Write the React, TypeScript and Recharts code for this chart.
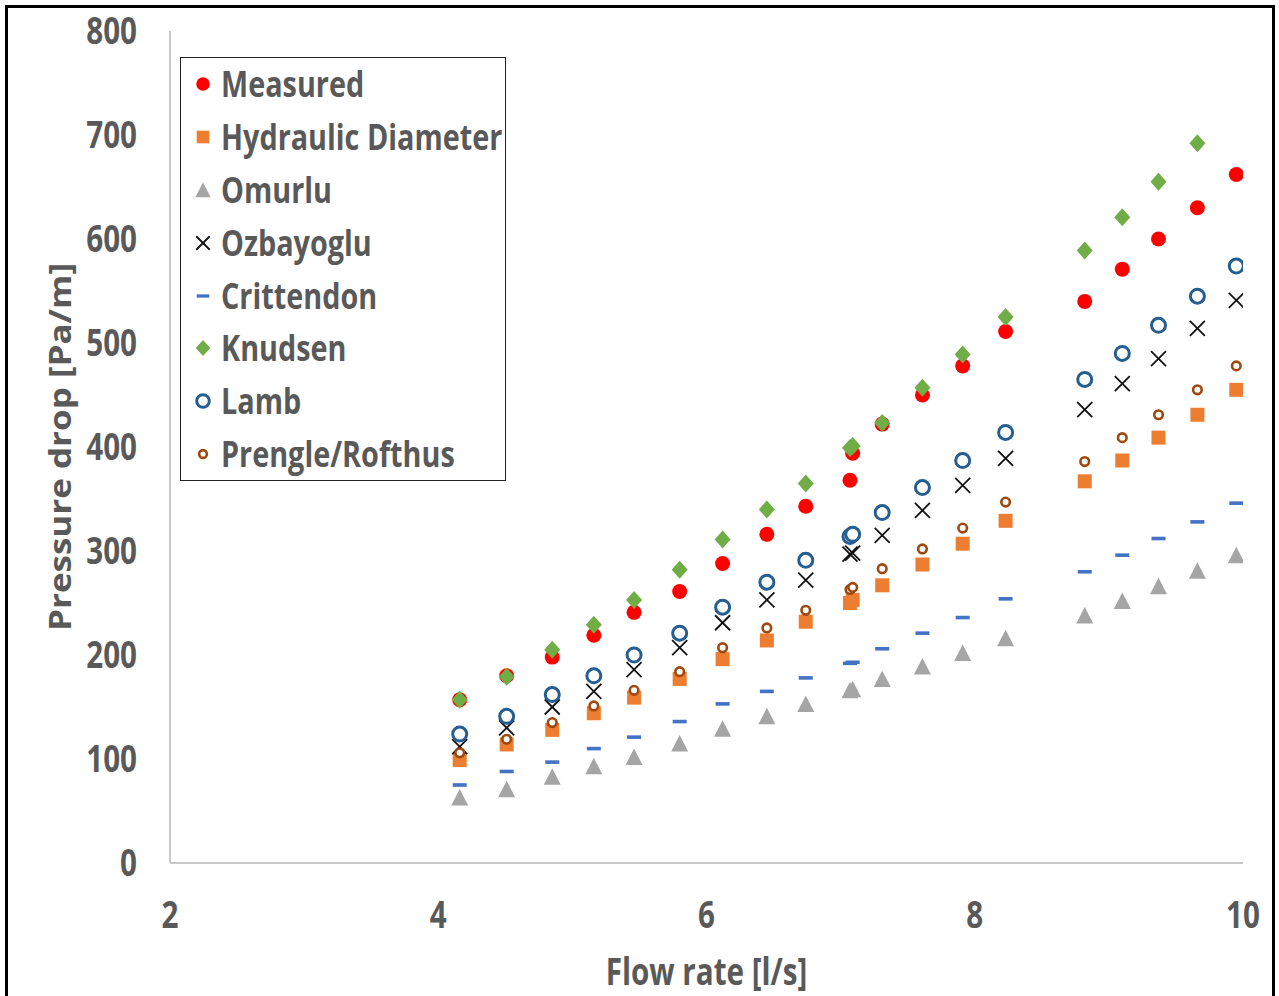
import React from 'react';
import { ScatterChart, Scatter, XAxis, YAxis, Legend } from 'recharts';

// flow rate [l/s] for every measurement row
const flowRate = [4.16, 4.51, 4.85, 5.16, 5.46, 5.8, 6.12, 6.45, 6.74, 7.07, 7.09, 7.31, 7.61, 7.91, 8.23, 8.82, 9.1, 9.37, 9.66, 9.95];

// pressure drop [Pa/m] per model
const measured = [157, 180, 198, 219, 241, 261, 288, 316, 343, 368, 394, 422, 450, 478, 511, 540, 571, 600, 630, 662];
const hydraulicDiameter = [99, 114, 128, 144, 159, 177, 196, 214, 232, 250, 253, 267, 287, 307, 329, 367, 387, 409, 431, 455];
const omurlu = [63, 71, 83, 93, 102, 115, 129, 141, 153, 166, 167, 177, 189, 202, 216, 238, 252, 266, 281, 296];
const ozbayoglu = [112, 130, 150, 165, 186, 207, 231, 253, 272, 297, 298, 315, 339, 363, 389, 436, 461, 485, 514, 541];
const crittendon = [75, 88, 97, 110, 121, 136, 153, 165, 178, 192, 193, 206, 221, 236, 254, 280, 296, 312, 328, 346];
const knudsen = [157, 179, 205, 229, 253, 282, 311, 340, 365, 399, 401, 423, 457, 489, 525, 589, 621, 655, 692, null];
const lamb = [124, 141, 162, 180, 200, 221, 246, 270, 291, 314, 316, 337, 361, 387, 414, 465, 490, 517, 545, 574];
const prengleRofthus = [106, 119, 135, 151, 166, 184, 207, 226, 243, 263, 265, 283, 302, 322, 347, 386, 409, 431, 455, 478];

const xTicks = [2, 4, 6, 8, 10];
const yTicks = [0, 100, 200, 300, 400, 500, 600, 700, 800];

const FONT = "'Open Sans', 'Liberation Sans', sans-serif";
const TEXT = '#595959';
// the typeface is drawn condensed
const SQUEEZE = 0.8;

type Kind = 'dot' | 'square' | 'triangle' | 'cross' | 'dash' | 'diamond' | 'ring' | 'smallRing';

function Marker({ kind, cx, cy, s = 1 }: { kind: Kind; cx: number; cy: number; s?: number }) {
  switch (kind) {
    case 'dot':
      return <circle cx={cx} cy={cy} r={7.5 * s} fill="#FF0000" />;
    case 'square':
      return <rect x={cx - 7 * s} y={cy - 7 * s} width={14 * s} height={14 * s} fill="#ED7D31" />;
    case 'triangle':
      return (
        <polygon
          points={`${cx},${cy - 8.5 * s} ${cx + 8.5 * s},${cy + 8 * s} ${cx - 8.5 * s},${cy + 8 * s}`}
          fill="#A5A5A5"
        />
      );
    case 'cross':
      return (
        <g stroke="#111" strokeWidth={1.8}>
          <line x1={cx - 7.5 * s} y1={cy - 7.5 * s} x2={cx + 7.5 * s} y2={cy + 7.5 * s} />
          <line x1={cx - 7.5 * s} y1={cy + 7.5 * s} x2={cx + 7.5 * s} y2={cy - 7.5 * s} />
        </g>
      );
    case 'dash':
      return <rect x={cx - 7 * s} y={cy - 1.8 * s} width={14 * s} height={3.6 * s} fill="#4472C4" />;
    case 'diamond':
      return (
        <polygon
          points={`${cx},${cy - 9 * s} ${cx + 8 * s},${cy} ${cx},${cy + 9 * s} ${cx - 8 * s},${cy}`}
          fill="#70AD47"
        />
      );
    case 'ring':
      return <circle cx={cx} cy={cy} r={7 * s} fill="#fff" stroke="#255E91" strokeWidth={3} />;
    case 'smallRing':
      return <circle cx={cx} cy={cy} r={4.3 * s} fill="#fff" stroke="#9E480E" strokeWidth={2.6} />;
  }
  return null;
}

const series: { name: string; kind: Kind; values: (number | null)[] }[] = [
  { name: 'Measured', kind: 'dot', values: measured },
  { name: 'Hydraulic Diameter', kind: 'square', values: hydraulicDiameter },
  { name: 'Omurlu', kind: 'triangle', values: omurlu },
  { name: 'Ozbayoglu', kind: 'cross', values: ozbayoglu },
  { name: 'Crittendon', kind: 'dash', values: crittendon },
  { name: 'Knudsen', kind: 'diamond', values: knudsen },
  { name: 'Lamb', kind: 'ring', values: lamb },
  { name: 'Prengle/Rofthus', kind: 'smallRing', values: prengleRofthus },
];

const toPoints = (values: (number | null)[]) =>
  flowRate
    .map((x, i) => ({ x, y: values[i] }))
    .filter((p) => p.y !== null);

function LegendBox() {
  return (
    <div
      style={{
        width: 326,
        height: 424,
        border: '1.5px solid #222',
        background: '#fff',
        boxSizing: 'border-box',
        paddingTop: 0,
      }}
    >
      {series.map((s) => (
        <div key={s.name} style={{ display: 'flex', alignItems: 'center', height: 52.8 }}>
          <svg width={40} height={30} style={{ flex: 'none' }}>
            <Marker kind={s.kind} cx={22} cy={15} s={0.9} />
          </svg>
          <span
            style={{
              fontFamily: FONT,
              fontWeight: 700,
              fontSize: 36,
              color: TEXT,
              lineHeight: 1,
              whiteSpace: 'nowrap',
              display: 'inline-block',
              transform: `scaleX(${SQUEEZE})`,
              transformOrigin: 'left center',
            }}
          >
            {s.name}
          </span>
        </div>
      ))}
    </div>
  );
}

const textStyle = { fontFamily: FONT, fontWeight: 700, fill: TEXT };

function XTick({ x, y, payload }: any) {
  return (
    <text transform={`translate(${x},${y + 65}) scale(${SQUEEZE},1)`} textAnchor="middle" fontSize={37} {...textStyle}>
      {payload.value}
    </text>
  );
}

function YTick({ x, y, payload }: any) {
  return (
    <text transform={`translate(${x},${y + 13}) scale(${SQUEEZE},1)`} textAnchor="end" fontSize={37} {...textStyle}>
      {payload.value}
    </text>
  );
}

function XTitle({ viewBox }: any) {
  const cx = viewBox.x + viewBox.width / 2;
  return (
    <text transform={`translate(${cx},985) scale(0.78,1)`} textAnchor="middle" fontSize={38} {...textStyle}>
      Flow rate [l/s]
    </text>
  );
}

function YTitle({ viewBox }: any) {
  const cy = viewBox.y + viewBox.height / 2;
  return (
    <text
      transform={`translate(60,${cy}) rotate(-90) scale(1,0.85)`}
      textAnchor="middle"
      dominantBaseline="central"
      fontSize={35}
      {...textStyle}
    >
      Pressure drop [Pa/m]
    </text>
  );
}

export default function App() {
  return (
    <div style={{ position: 'absolute', left: 0, top: 0, width: 1279, height: 996, background: '#fff', overflow: 'hidden' }}>
      <div
        style={{
          position: 'absolute',
          left: 5,
          top: 5,
          width: 1270,
          height: 1010,
          border: '3px solid #000',
          boxSizing: 'border-box',
        }}
      />
      <ScatterChart width={1279} height={996} margin={{ top: 31, right: 36, bottom: 73, left: 90 }}>
        <XAxis
          type="number"
          dataKey="x"
          domain={[2, 10]}
          ticks={xTicks}
          allowDataOverflow
          axisLine={{ stroke: '#C8C8C8', strokeWidth: 2 }}
          tickLine={false}
          tickSize={0}
          tickMargin={0}
          tick={<XTick />}
          height={60}
          label={<XTitle />}
        />
        <XAxis xAxisId="top" orientation="top" type="number" domain={[2, 10]} height={0} tick={false} tickLine={false} axisLine={{ stroke: '#555', strokeWidth: 2 }} />
        <YAxis
          type="number"
          dataKey="y"
          domain={[0, 800]}
          ticks={yTicks}
          axisLine={{ stroke: '#C8C8C8', strokeWidth: 2 }}
          tickLine={false}
          tickSize={0}
          tickMargin={33}
          tick={<YTick />}
          width={80}
          label={<YTitle />}
        />
        <YAxis yAxisId="right" orientation="right" type="number" domain={[0, 800]} width={0} tick={false} tickLine={false} axisLine={{ stroke: '#333', strokeWidth: 2 }} />
        <Legend
          layout="vertical"
          align="center"
          verticalAlign="middle"
          content={() => <LegendBox />}
          wrapperStyle={{ left: 180, top: 57, width: 326 }}
        />
        {series.map((s) => (
          <Scatter
            key={s.name}
            name={s.name}
            data={toPoints(s.values)}
            isAnimationActive={false}
            shape={(p: any) => <Marker kind={s.kind} cx={p.cx} cy={p.cy} />}
          />
        ))}
      </ScatterChart>
    </div>
  );
}
